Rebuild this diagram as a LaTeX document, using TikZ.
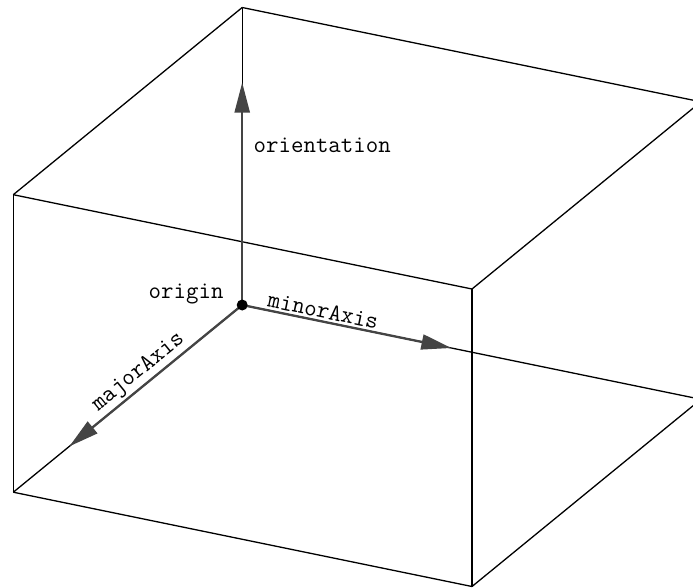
\documentclass[tikz,border=0pt]{standalone}
\usepackage{fontspec}
\usetikzlibrary{arrows.meta,calc}
\definecolor{axisgray}{HTML}{444444}
\begin{document}
\begin{tikzpicture}[x=1pt,y=-1pt,
  edge/.style={draw=black,line width=1.3pt},
  axisarrow/.style={draw=axisgray,line width=2.3pt,
    -{Triangle[length=30pt,width=15pt,fill=axisgray]}},
  lbl/.style={font=\ttfamily\fontsize{24.2}{28}\selectfont,inner sep=0pt,text=black}]
\useasboundingbox (0,0) rectangle (693,587);
\clip (0,0) rectangle (693,587);
% box corners
\coordinate (A) at (242.2,7.5);
\coordinate (B) at (700.9,101.8);
\coordinate (C) at (13.3,194.7);
\coordinate (D) at (472,289);
\coordinate (O) at (242.2,305);
\coordinate (G) at (700.9,399.3);
\coordinate (F) at (13.3,492.2);
\coordinate (E) at (472,586.5);
% box edges
\draw[edge] (A) -- (B);
\draw[edge] (B) -- (D);
\draw[edge] (D) -- (C);
\draw[edge] (C) -- (A);
\draw[edge] (A) -- (O);
\draw[edge] (C) -- (F);
\draw[edge] (D) -- (E);
\draw[edge] (B) -- (G);
\draw[edge] (O) -- (G);
\draw[edge] (G) -- (E);
\draw[edge] (E) -- (F);
\draw[edge] (F) -- (O);
% arrow tips
\coordinate (otip) at (242.2,82.5);
\coordinate (mintip) at ($(O)!0.456!(G)$);
\coordinate (majtip) at ($(O)!0.755!(F)$);
\draw[axisarrow] (O) -- (otip);
\draw[axisarrow] (O) -- (mintip);
\draw[axisarrow] (O) -- (majtip);
% origin dot
\fill[black] (O) circle (5.5pt);
% labels
\node[lbl,anchor=base west] (orientlbl) at (253.5,152) {orientation};
\node[lbl,anchor=base west] (originlbl) at (148.5,298.5) {origin};
\path (O) -- (G) node[lbl,pos=0.172,sloped,above=3pt] (minorlbl) {minorAxis};
\path (F) -- (O) node[lbl,pos=0.585,sloped,above=3pt] (majorlbl) {majorAxis};
\end{tikzpicture}
\end{document}
